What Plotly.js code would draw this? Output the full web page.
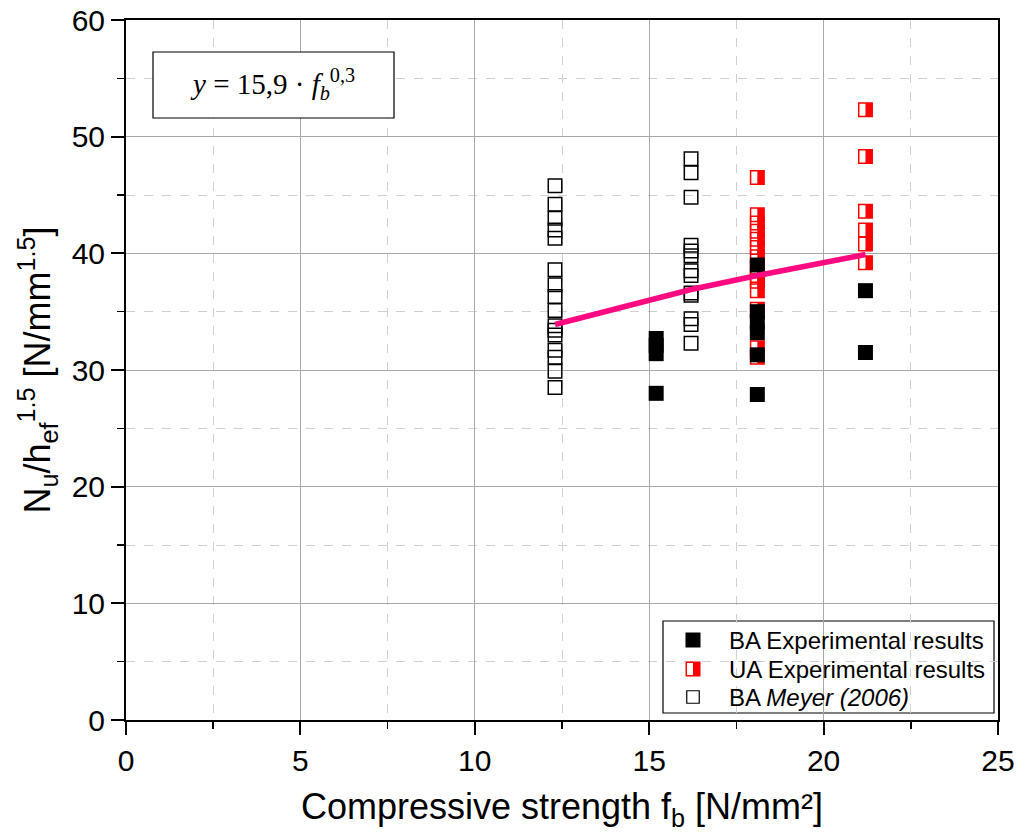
<!DOCTYPE html>
<html>
<head>
<meta charset="utf-8">
<script src="https://cdn.plot.ly/plotly-3.0.1.min.js"></script>
<style>html,body{margin:0;padding:0;background:#fff;}#chart{width:1016px;height:834px;}</style>
</head>
<body>
<div id="chart"></div>
<script>
// ---- data ----
const baX = [15.2, 15.2, 15.2, 15.2, 18.1, 18.1, 18.1, 18.1, 18.1, 18.1, 21.2, 21.2];
const baY = [32.7, 32.1, 31.4, 28.0, 39.0, 35.0, 34.1, 33.2, 31.3, 27.9, 36.8, 31.5];

const uaX = [18.1, 18.1, 18.1, 18.1, 18.1, 18.1, 18.1, 18.1, 18.1, 18.1, 18.1, 18.1, 18.1, 18.1,
             21.2, 21.2, 21.2, 21.2, 21.2, 21.2];
const uaY = [46.5, 43.3, 42.6, 41.9, 41.2, 40.5, 39.7, 38.8, 38.1, 37.6, 36.8, 35.2, 31.9, 31.1,
             52.3, 48.3, 43.6, 42.0, 40.8, 39.2];

const meyerX = [12.3, 12.3, 12.3, 12.3, 12.3, 12.3, 12.3, 12.3, 12.3, 12.3, 12.3, 12.3, 12.3, 12.3, 12.3, 12.3,
                16.2, 16.2, 16.2, 16.2, 16.2, 16.2, 16.2, 16.2, 16.2, 16.2, 16.2, 16.2, 16.2];
const meyerY = [45.8, 44.2, 43.0, 42.0, 41.3, 38.6, 37.3, 36.3, 35.1, 33.8, 33.4, 33.0, 31.7, 31.1, 29.9, 28.5,
                48.1, 46.9, 44.8, 40.7, 40.2, 39.8, 38.5, 38.1, 36.6, 36.4, 34.4, 33.9, 32.3];

const fitX = [12.3, 16.2, 18.1, 21.2];
const fitY = [33.9, 36.9, 38.1, 39.9];

const legendLabels = ['BA Experimental results', 'UA Experimental results', 'BA <i>Meyer (2006)</i>'];
const equationText = '<i>y</i> = 15,9 · <i>f</i><sub><i>b</i></sub><sup>0,3</sup>';
const xTitle = 'Compressive strength f<sub>b</sub> [N/mm²]';
const yTitle = 'N<sub>u</sub>/h<sub>ef</sub><sup>1.5</sup> [N/mm<sup>1.5</sup>]';

// ---- layout constants ----
const W = 1016, H = 834;
const M = {l: 126, r: 18, t: 20, b: 114};
const plotW = W - M.l - M.r;
const plotH = H - M.t - M.b;
const xRange = [0, 25], yRange = [0, 60];
const S = 13.5, LW = 1.5;            // marker size / outline
const halfPx = S / 4;                // centre of the right half, in px
const RED = '#ff0000';
const FONT = '"Liberation Sans", Arial, sans-serif';

const dxMain = halfPx * (xRange[1] - xRange[0]) / plotW;
const dxLeg = halfPx / plotW;
const halfBar = {symbol: 'line-ns', size: S / 1.4, color: RED, line: {width: S / 2, color: RED}};

// legend geometry (paper coords)
const legBox = {x0: (663 - M.l) / plotW, x1: (994 - M.l) / plotW, y0: (H - M.b - 713) / plotH, y1: (H - M.b - 621) / plotH};
const legRowsY = [640, 669, 697].map(p => (H - M.b - p) / plotH);
const legSymX = (693 - M.l) / plotW;
const legTextX = (727 - M.l) / plotW;

const traces = [
  { x: meyerX, y: meyerY, type: 'scatter', mode: 'markers', name: 'BA Meyer (2006)', showlegend: false,
    marker: {symbol: 'square-open', size: S, color: '#000', line: {width: LW, color: '#000'}} },
  { x: uaX, y: uaY, type: 'scatter', mode: 'markers', name: 'UA Experimental results', showlegend: false,
    marker: {symbol: 'square-open', size: S, color: RED, line: {width: LW, color: RED}} },
  { x: uaX.map(v => v + dxMain), y: uaY, type: 'scatter', mode: 'markers', showlegend: false, hoverinfo: 'skip',
    marker: halfBar },
  { x: baX, y: baY, type: 'scatter', mode: 'markers', name: 'BA Experimental results', showlegend: false,
    marker: {symbol: 'square', size: S + LW, color: '#000', line: {width: 0}} },
  { x: fitX, y: fitY, type: 'scatter', mode: 'lines', name: 'fit', showlegend: false,
    line: {color: '#ff0a80', width: 5.5} },
  // legend symbols (on an overlay paper-like axis)
  { x: [legSymX], y: [legRowsY[0]], xaxis: 'x2', yaxis: 'y2', type: 'scatter', mode: 'markers', showlegend: false, hoverinfo: 'skip',
    marker: {symbol: 'square', size: S + LW, color: '#000', line: {width: 0}} },
  { x: [legSymX], y: [legRowsY[1]], xaxis: 'x2', yaxis: 'y2', type: 'scatter', mode: 'markers', showlegend: false, hoverinfo: 'skip',
    marker: {symbol: 'square-open', size: S, color: RED, line: {width: LW, color: RED}} },
  { x: [legSymX + dxLeg], y: [legRowsY[1]], xaxis: 'x2', yaxis: 'y2', type: 'scatter', mode: 'markers', showlegend: false, hoverinfo: 'skip',
    marker: halfBar },
  { x: [legSymX], y: [legRowsY[2]], xaxis: 'x2', yaxis: 'y2', type: 'scatter', mode: 'markers', showlegend: false, hoverinfo: 'skip',
    marker: {symbol: 'square-open', size: S - 1, color: '#000', line: {width: 1.2, color: '#000'}} }
];

const axisCommon = {
  showline: true, linewidth: 2, linecolor: '#000', mirror: true,
  ticks: 'outside', ticklen: 13, tickwidth: 2, tickcolor: '#000',
  showgrid: true, gridcolor: '#a8a8a8', gridwidth: 1, zeroline: false,
  tickfont: {family: FONT, size: 30, color: '#000'},
  automargin: false
};

const layout = {
  width: W, height: H,
  margin: M,
  paper_bgcolor: '#fff', plot_bgcolor: '#fff',
  showlegend: false,
  font: {family: FONT, color: '#000'},
  xaxis: Object.assign({}, axisCommon, {
    range: xRange, tick0: 0, dtick: 5,
    minor: {dtick: 2.5, ticks: 'outside', ticklen: 7, tickwidth: 1.5, tickcolor: '#000',
            showgrid: true, gridcolor: '#d0d0d0', griddash: 'dash', gridwidth: 1},
    title: {text: xTitle, font: {family: FONT, size: 36, color: '#000'}, standoff: 18}
  }),
  yaxis: Object.assign({}, axisCommon, {
    range: yRange, tick0: 0, dtick: 10,
    minor: {dtick: 5, ticks: 'outside', ticklen: 7, tickwidth: 1.5, tickcolor: '#000',
            showgrid: true, gridcolor: '#d0d0d0', griddash: 'dash', gridwidth: 1},
    title: {text: yTitle, font: {family: FONT, size: 36, color: '#000'}, standoff: 10}
  }),
  xaxis2: {overlaying: 'x', range: [0, 1], visible: false, fixedrange: true},
  yaxis2: {overlaying: 'y', range: [0, 1], visible: false, fixedrange: true},
  shapes: [
    {type: 'rect', xref: 'paper', yref: 'paper',
     x0: (153 - M.l) / plotW, x1: (394 - M.l) / plotW,
     y0: (H - M.b - 118) / plotH, y1: (H - M.b - 52) / plotH,
     line: {color: '#000', width: 1.2}, fillcolor: '#fff', layer: 'above'},
    {type: 'rect', xref: 'paper', yref: 'paper',
     x0: legBox.x0, x1: legBox.x1, y0: legBox.y0, y1: legBox.y1,
     line: {color: '#000', width: 1.2}, fillcolor: '#fff', layer: 'below'}
  ],
  annotations: [
    {xref: 'paper', yref: 'paper', x: (272 - M.l) / plotW, y: (H - M.b - 84) / plotH,
     text: equationText, showarrow: false, xanchor: 'center', yanchor: 'middle',
     font: {family: '"Liberation Serif", "DejaVu Serif", serif', size: 29, color: '#000'}}
  ].concat(legendLabels.map((t, i) => ({
     xref: 'paper', yref: 'paper', x: legTextX, y: legRowsY[i], text: t, showarrow: false,
     xanchor: 'left', yanchor: 'middle', font: {family: FONT, size: 24, color: '#000'}
  })))
};

Plotly.newPlot('chart', traces, layout, {displayModeBar: false, staticPlot: true});
</script>
</body>
</html>
